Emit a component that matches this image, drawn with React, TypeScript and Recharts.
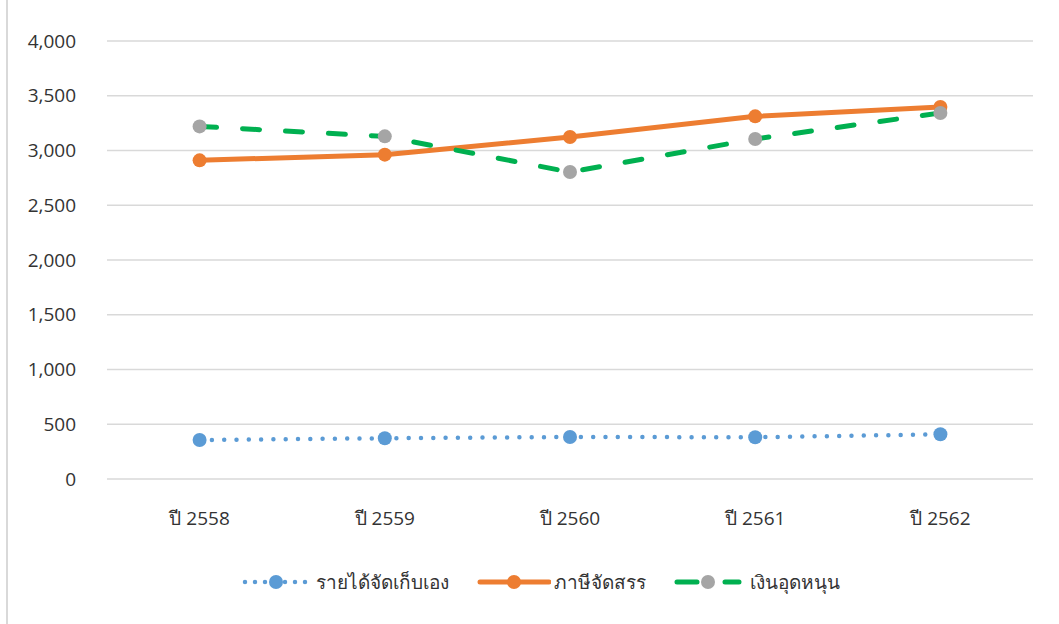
import React from 'react';
import { LineChart, Line, XAxis, YAxis, CartesianGrid, Legend } from 'recharts';

const categories = ['ปี 2558', 'ปี 2559', 'ปี 2560', 'ปี 2561', 'ปี 2562'];
const ownRevenue = [356, 372, 384, 381, 408];
const allocatedTax = [2910, 2962, 3123, 3312, 3398];
const subsidy = [3220, 3129, 2803, 3105, 3343];
const yTicks = [0, 500, 1000, 1500, 2000, 2500, 3000, 3500, 4000];
const seriesNames = ['รายได้จัดเก็บเอง', 'ภาษีจัดสรร', 'เงินอุดหนุน'];

const data = categories.map((c, i) => ({
  name: c,
  own: ownRevenue[i],
  tax: allocatedTax[i],
  sub: subsidy[i],
}));

const FONT = '"Open Sans", "Noto Sans", sans-serif';

const LegendContent = () => (
  <div style={{ display: 'flex', justifyContent: 'flex-start', alignItems: 'center', height: 30, paddingLeft: 242, fontFamily: FONT, fontSize: 19, color: '#333' }}>
    <svg width={66} height={20} style={{ marginRight: 8 }}>
      <line x1={3} y1={10} x2={64} y2={10} stroke="#5B9BD5" strokeWidth={4.5} strokeDasharray="0 10" strokeLinecap="round" />
      <circle cx={34} cy={10} r={7} fill="#5B9BD5" />
    </svg>
    <span style={{ marginRight: 28 }}>{seriesNames[0]}</span>
    <svg width={74} height={20} style={{ marginRight: 3 }}>
      <line x1={3} y1={10} x2={72} y2={10} stroke="#ED7D31" strokeWidth={5} strokeLinecap="round" />
      <circle cx={37} cy={10} r={7} fill="#ED7D31" />
    </svg>
    <span style={{ marginRight: 28 }}>{seriesNames[1]}</span>
    <svg width={68} height={20} style={{ marginRight: 8 }}>
      <line x1={3} y1={10} x2={65} y2={10} stroke="#00B050" strokeWidth={5} strokeDasharray="20 28" strokeLinecap="round" />
      <circle cx={34} cy={10} r={7} fill="#A5A5A5" />
    </svg>
    <span>{seriesNames[2]}</span>
  </div>
);

export default function App() {
  return (
    <div style={{ position: 'absolute', left: 0, top: 0, width: 1059, height: 624, background: '#fff' }}>
      <div style={{ position: 'absolute', left: 6, top: 0, width: 2, height: 624, background: '#d9d9d9' }} />
      <LineChart
        width={1059}
        height={624}
        data={data}
        margin={{ top: 41, right: 26, bottom: 27, left: 0 }}
      >
        <CartesianGrid vertical={false} stroke="#d9d9d9" strokeWidth={1.5} />
        <XAxis
          dataKey="name"
          axisLine={false}
          tickLine={false}
          height={88}
          tickMargin={27}
          padding={{ left: 92.6, right: 92.6 }}
          tick={{ fill: '#333', fontSize: 19, fontFamily: FONT }}
          interval={0}
        />
        <YAxis
          domain={[0, 4000]}
          ticks={yTicks}
          width={107}
          axisLine={false}
          tickLine={false}
          tickSize={0}
          tickMargin={31}
          tickFormatter={(v: number) => v.toLocaleString('en-US')}
          tick={{ fill: '#333', fontSize: 19, fontFamily: FONT }}
        />
        <Legend verticalAlign="bottom" height={30} content={<LegendContent />} />
        <Line
          type="linear"
          dataKey="own"
          name={seriesNames[0]}
          stroke="#5B9BD5"
          strokeWidth={4.5}
          strokeDasharray="0 12.3"
          strokeLinecap="round"
          dot={{ r: 7, fill: '#5B9BD5', stroke: 'none' }}
          isAnimationActive={false}
        />
        <Line
          type="linear"
          dataKey="tax"
          name={seriesNames[1]}
          stroke="#ED7D31"
          strokeWidth={5}
          strokeLinecap="round"
          dot={{ r: 7, fill: '#ED7D31', stroke: 'none' }}
          isAnimationActive={false}
        />
        <Line
          type="linear"
          dataKey="sub"
          name={seriesNames[2]}
          stroke="#00B050"
          strokeWidth={5}
          strokeDasharray="17 26"
          strokeLinecap="round"
          dot={{ r: 7, fill: '#A5A5A5', stroke: 'none' }}
          isAnimationActive={false}
        />
      </LineChart>
    </div>
  );
}
